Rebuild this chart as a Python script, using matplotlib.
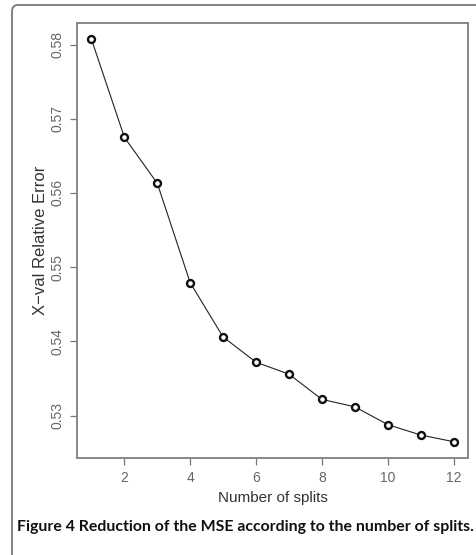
import matplotlib.pyplot as plt
from matplotlib.patches import FancyBboxPatch

splits = [1, 2, 3, 4, 5, 6, 7, 8, 9, 10, 11, 12]
xval_error = [0.5807, 0.5675, 0.5613, 0.5479, 0.5406, 0.5372,
              0.5356, 0.5322, 0.5312, 0.5288, 0.5274, 0.5265]
xticks = [2, 4, 6, 8, 10, 12]
yticks = [0.53, 0.54, 0.55, 0.56, 0.57, 0.58]

plt.rcParams['font.family'] = ['Liberation Sans', 'DejaVu Sans']

W, H = 477, 555
fig = plt.figure(figsize=(W / 100, H / 100), dpi=100)

# outer frame, rounded at top-left, running off right and bottom
frame = FancyBboxPatch((12 / W, -0.05), 1.2, (H - 5) / H + 0.05,
                       boxstyle="round,pad=0,rounding_size=0.012",
                       transform=fig.transFigure, fill=False,
                       edgecolor="#777777", linewidth=1.3)
fig.patches.append(frame)

ax = fig.add_axes([77 / W, (H - 458) / H, (468 - 77) / W, (458 - 23) / H])
ax.plot(splits, xval_error, "-", color="#222222", linewidth=0.8,
        marker="o", markersize=5, markerfacecolor="white",
        markeredgecolor="#111111", markeredgewidth=1.7)

ax.set_xlim(0.56, 12.44)
ax.set_ylim(0.5243, 0.5829)
ax.set_xticks(xticks)
ax.set_yticks(yticks)
ax.set_xticklabels([str(t) for t in xticks])
ax.set_yticklabels(["%.2f" % t for t in yticks], rotation=90, va="center")

for s in ax.spines.values():
    s.set_color("#888888")
    s.set_linewidth(1.4)
ax.tick_params(colors="#777777", labelcolor="#666666", labelsize=10,
               length=5, width=0.9, pad=4)

ax.set_xlabel("Number of splits", fontsize=11, color="#333333", labelpad=5)
ax.set_ylabel("X\u2212val Relative Error", fontsize=12, color="#333333",
              labelpad=2)

fig.text(0.5 + 7 / W, 1 - 527 / H,
         "Figure 4 Reduction of the MSE according to the number of splits.",
         ha="center", va="center", fontsize=11.4, fontweight="bold",
         family=["Lato", "DejaVu Sans"], color="#111111")

fig.savefig("out.png", dpi=100)
